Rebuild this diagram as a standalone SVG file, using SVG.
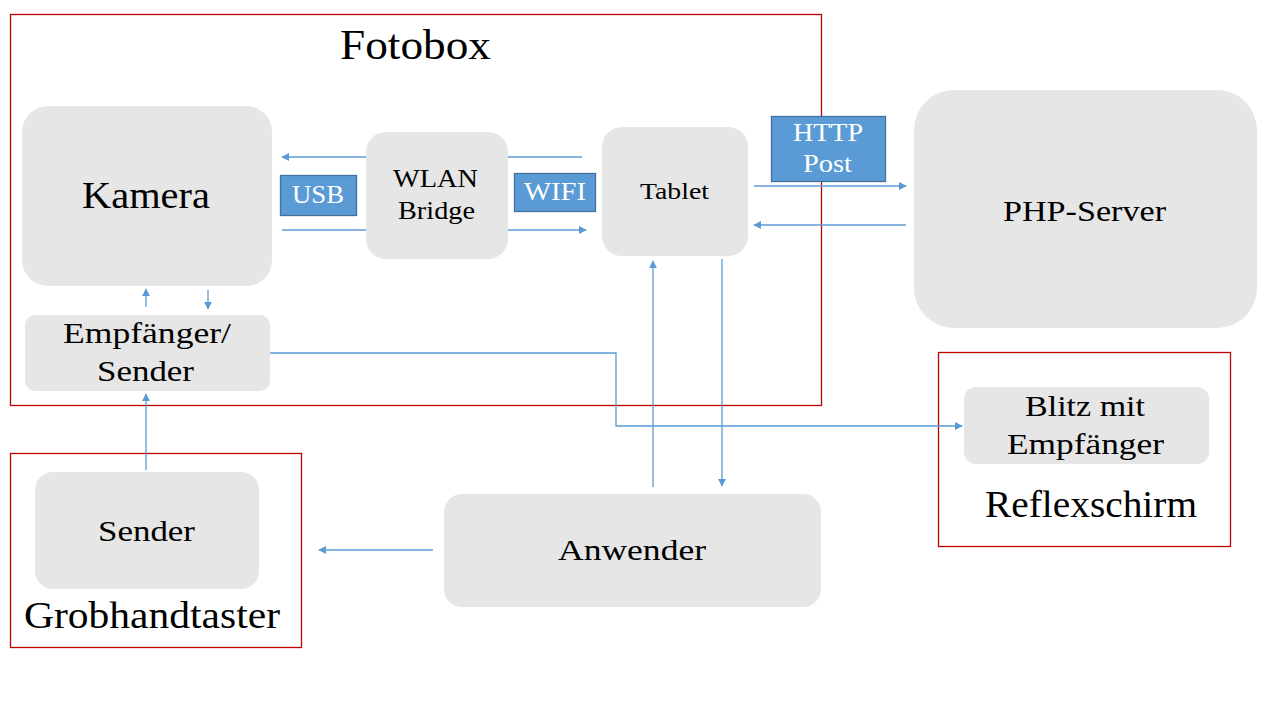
<svg xmlns="http://www.w3.org/2000/svg" width="1280" height="720" viewBox="0 0 1280 720">
<defs>
<marker id="ah" viewBox="0 0 10 10" refX="9" refY="5" markerWidth="8" markerHeight="8" markerUnits="userSpaceOnUse" orient="auto">
<path d="M0,0 L10,5 L0,10 z" fill="#5b9bd5"/>
</marker>
</defs>
<style>
.frame{fill:none;stroke:#c00000;stroke-width:1.3}
.node{fill:#e6e6e6}
.tag{fill:#5b9bd5;stroke:#41719c;stroke-width:1.3}
.t{font-family:"Liberation Serif","Times New Roman",serif;fill:#000;text-anchor:middle}
.w{font-family:"Liberation Serif","Times New Roman",serif;fill:#fff;text-anchor:middle}
.c{fill:none;stroke:#5b9bd5;stroke-width:1.3}
.a{marker-end:url(#ah)}
</style>
<rect width="1280" height="720" fill="#fff"/>

<g id="fotobox">
<rect class="frame" x="10.5" y="14.5" width="811" height="391"/>
<text class="t" x="415.5" y="59" font-size="42" textLength="151" lengthAdjust="spacingAndGlyphs">Fotobox</text>
</g>
<g id="grobhandtaster">
<rect class="frame" x="10.5" y="453.5" width="291" height="194"/>
<text class="t" x="152" y="628" font-size="37" textLength="256" lengthAdjust="spacingAndGlyphs">Grobhandtaster</text>
</g>
<g id="reflexschirm">
<rect class="frame" x="938.5" y="352.5" width="292" height="194"/>
<text class="t" x="1091" y="517" font-size="37" textLength="212" lengthAdjust="spacingAndGlyphs">Reflexschirm</text>
</g>

<g id="connectors">
<line class="c a" x1="366" y1="157" x2="282" y2="157"/>
<line class="c" x1="582" y1="157" x2="508" y2="157"/>
<line class="c" x1="282" y1="230" x2="366" y2="230"/>
<line class="c a" x1="508" y1="230" x2="586" y2="230"/>
<line class="c a" x1="754" y1="186" x2="906" y2="186"/>
<line class="c a" x1="906" y1="225" x2="754" y2="225"/>
<line class="c a" x1="146" y1="307" x2="146" y2="289"/>
<line class="c a" x1="208" y1="290" x2="208" y2="309"/>
<polyline class="c a" points="270,353 616,353 616,426 962,426"/>
<line class="c a" x1="146" y1="470" x2="146" y2="394"/>
<line class="c a" x1="433" y1="550" x2="319" y2="550"/>
<line class="c a" x1="653" y1="487" x2="653" y2="261"/>
<line class="c a" x1="722" y1="259" x2="722" y2="486"/>
</g>

<g id="kamera">
<rect class="node" x="22" y="106" width="250" height="180" rx="26"/>
<text class="t" x="146" y="208" font-size="37" textLength="128" lengthAdjust="spacingAndGlyphs">Kamera</text>
</g>
<g id="usb">
<rect class="tag" x="280.5" y="175.5" width="76" height="40"/>
<text class="w" x="318" y="203" font-size="26" textLength="52" lengthAdjust="spacingAndGlyphs">USB</text>
</g>
<g id="wlan">
<rect class="node" x="366" y="132" width="142" height="127" rx="20"/>
<text class="t" x="435.5" y="187" font-size="26" textLength="85" lengthAdjust="spacingAndGlyphs">WLAN</text>
<text class="t" x="436.5" y="219" font-size="26" textLength="77" lengthAdjust="spacingAndGlyphs">Bridge</text>
</g>
<g id="wifi">
<rect class="tag" x="514.5" y="173.5" width="81" height="38"/>
<text class="w" x="555" y="200" font-size="26" textLength="62" lengthAdjust="spacingAndGlyphs">WIFI</text>
</g>
<g id="tablet">
<rect class="node" x="602" y="127" width="146" height="129" rx="20"/>
<text class="t" x="674.5" y="199" font-size="24" textLength="69" lengthAdjust="spacingAndGlyphs">Tablet</text>
</g>
<g id="http">
<rect class="tag" x="771.5" y="116.5" width="114" height="65"/>
<text class="w" x="828" y="141" font-size="26" textLength="70" lengthAdjust="spacingAndGlyphs">HTTP</text>
<text class="w" x="827.5" y="172" font-size="26" textLength="49" lengthAdjust="spacingAndGlyphs">Post</text>
</g>
<g id="php">
<rect class="node" x="914" y="90" width="343" height="238" rx="40"/>
<text class="t" x="1084.5" y="221" font-size="30" textLength="163" lengthAdjust="spacingAndGlyphs">PHP-Server</text>
</g>
<g id="empfaenger">
<rect class="node" x="25" y="315" width="245" height="76" rx="10"/>
<text class="t" x="147" y="343" font-size="30" textLength="168" lengthAdjust="spacingAndGlyphs">Empfänger/</text>
<text class="t" x="145.5" y="381" font-size="30" textLength="97" lengthAdjust="spacingAndGlyphs">Sender</text>
</g>
<g id="sender">
<rect class="node" x="35" y="472" width="224" height="117" rx="18"/>
<text class="t" x="146.5" y="541" font-size="30" textLength="97" lengthAdjust="spacingAndGlyphs">Sender</text>
</g>
<g id="anwender">
<rect class="node" x="444" y="494" width="377" height="113" rx="18"/>
<text class="t" x="632" y="560" font-size="30" textLength="148" lengthAdjust="spacingAndGlyphs">Anwender</text>
</g>
<g id="blitz">
<rect class="node" x="964" y="387" width="245" height="77" rx="12"/>
<text class="t" x="1085" y="416" font-size="30" textLength="120" lengthAdjust="spacingAndGlyphs">Blitz mit</text>
<text class="t" x="1085.5" y="454" font-size="30" textLength="157" lengthAdjust="spacingAndGlyphs">Empfänger</text>
</g>
</svg>
